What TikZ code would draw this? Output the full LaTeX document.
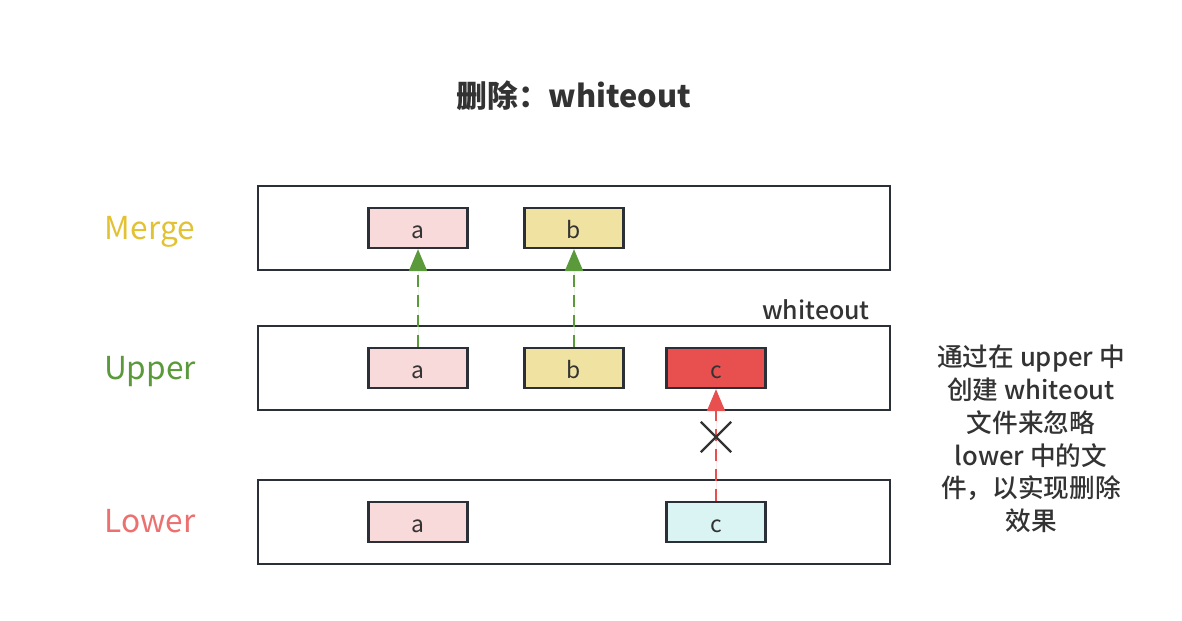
\documentclass[tikz,border=0pt]{standalone}
\usepackage{fontspec}
\setmainfont{Noto Sans CJK SC}
\newfontfamily\medfont{Noto Sans CJK SC}[UprightFont=* Medium]
\usetikzlibrary{arrows.meta,shapes.misc}
\definecolor{edgegray}{HTML}{2B3038}
\definecolor{filea}{HTML}{F9DADA}
\definecolor{fileb}{HTML}{F0E2A0}
\definecolor{fileout}{HTML}{E85050}
\definecolor{filelow}{HTML}{DAF4F4}
\definecolor{mergecol}{HTML}{E2C232}
\definecolor{uppercol}{HTML}{5A9A3A}
\definecolor{lowercol}{HTML}{EC7070}
\definecolor{textgray}{HTML}{333333}
\tikzset{
  layer/.style={draw=edgegray, line width=1.1pt, minimum width=12.64cm, minimum height=1.68cm, inner sep=0pt},
  file/.style={draw=edgegray, line width=1.3pt, minimum width=1.98cm, minimum height=0.8cm, inner sep=0pt, text height=2.5ex, text depth=0.25ex, font=\fontsize{13}{15}\selectfont, text=textgray},
  layername/.style={font=\fontsize{18}{20}\selectfont, text height=2.2ex, text depth=0.25ex},
  copyup/.style={line width=1.2pt, dash pattern=on 0.24cm off 0.16cm, -{Triangle[width=0.36cm,length=0.44cm]}},
  crossmark/.style={cross out, draw=black!80, line width=1.3pt, minimum size=0.56cm, inner sep=0pt}
}

\begin{document}
\begin{tikzpicture}[x=0.02cm,y=-0.02cm]
  \useasboundingbox (0,0) rectangle (1182,621);

  \node[font=\bfseries\fontsize{17.5}{20}\selectfont, text=textgray] (title) at (574,96) {删除：whiteout};

  % the three layers
  \node[layer] (merge) at (574,228) {};
  \node[layer] (upper) at (574,368) {};
  \node[layer] (lower) at (574,522) {};

  \node[layername, text=mergecol] (mergename) at (150,230) {Merge};
  \node[layername, text=uppercol] (uppername) at (150,370) {Upper};
  \node[layername, text=lowercol] (lowername) at (150,523) {Lower};

  % files in each layer
  \node[file, fill=filea] (ma) at (418,228) {a};
  \node[file, fill=fileb] (mb) at (574,228) {b};

  \node[file, fill=filea] (ua) at (418,368) {a};
  \node[file, fill=fileb] (ub) at (574,368) {b};
  \node[file, fill=fileout] (uc) at (716,368) {c};

  \node[file, fill=filea] (la) at (418,522) {a};
  \node[file, fill=filelow] (lc) at (716,522) {c};

  \node[font=\medfont\fontsize{14.2}{16}\selectfont, text=textgray] (wlabel) at (816,310) {whiteout};

  \draw[copyup, draw=uppercol, fill=uppercol] (ua.north) -- (ma.south);
  \draw[copyup, draw=uppercol, fill=uppercol] (ub.north) -- (mb.south);
  \draw[copyup, draw=fileout, fill=fileout] (lc.north) -- (uc.south);

  \node[crossmark] (hidden) at (716,437) {};

  \node[align=center, font=\medfont\fontsize{14.6}{18.7}\selectfont, text=textgray] (note) at (1031,439)
    {通过在 upper 中\\创建 whiteout\\文件来忽略\\lower 中的文\\件，以实现删除\\效果};
\end{tikzpicture}
\end{document}
